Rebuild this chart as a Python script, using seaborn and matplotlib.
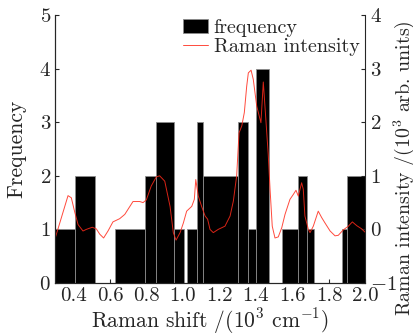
import numpy as np
import pandas as pd
import matplotlib
matplotlib.use("Agg")
import matplotlib.pyplot as plt
import seaborn as sns

# Histogram bins (Raman shift, 10^3 cm^-1) and frequency counts
bin_edges = [0.30, 0.41, 0.52, 0.63, 0.79, 0.85, 0.95, 1.005, 1.02, 1.075, 1.11,
             1.30, 1.355, 1.40, 1.47, 1.54, 1.63, 1.68, 1.72, 1.87, 1.90, 2.00]
frequency = [1, 2, 0, 1, 2, 3, 1, 0, 1, 3, 2, 3, 1, 4, 0, 1, 2, 1, 0, 1, 2]

# Raman spectrum (10^3 cm^-1, 10^3 arb. units)
raman_shift = [0.300, 0.370, 0.388, 0.407, 0.425, 0.452, 0.470, 0.503, 0.525, 0.544,
               0.565, 0.589, 0.616, 0.653, 0.681, 0.726, 0.763, 0.781, 0.799, 0.826,
               0.854, 0.872, 0.900, 0.929, 0.947, 0.962, 0.984, 1.002, 1.020, 1.048,
               1.062, 1.070, 1.084, 1.102, 1.121, 1.135, 1.148, 1.166, 1.193, 1.230,
               1.258, 1.276, 1.294, 1.307, 1.322, 1.336, 1.349, 1.358, 1.373, 1.385,
               1.404, 1.427, 1.440, 1.449, 1.467, 1.477, 1.489, 1.504, 1.522, 1.541,
               1.559, 1.586, 1.604, 1.619, 1.632, 1.650, 1.659, 1.668, 1.687, 1.696,
               1.714, 1.741, 1.760, 1.778, 1.806, 1.833, 1.851, 1.878, 1.906, 1.928,
               1.952, 1.979, 1.997]
raman_intensity = [-0.16, 0.63, 0.59, 0.32, 0.09, -0.03, 0.00, 0.04, 0.01, -0.09,
                   -0.16, -0.03, 0.14, 0.20, 0.28, 0.52, 0.52, 0.50, 0.55, 0.81,
                   0.98, 1.00, 0.90, 0.43, -0.06, -0.20, -0.06, 0.12, 0.34, 0.43,
                   0.56, 0.93, 0.62, 0.43, 0.25, 0.19, 0.00, -0.06, 0.00, 0.06,
                   0.25, 0.53, 1.00, 1.80, 1.93, 2.18, 2.67, 2.92, 2.97, 2.80,
                   2.30, 1.99, 2.75, 2.30, 1.40, 0.75, 0.06, -0.16, -0.14, 0.03,
                   0.28, 0.56, 0.65, 0.73, 0.62, 0.87, 0.75, 0.25, 0.00, -0.06,
                   0.06, 0.34, 0.22, 0.12, -0.03, -0.12, -0.11, -0.01, 0.06, 0.14,
                   0.07, 0.01, -0.05]

x_ticks = [0.4, 0.6, 0.8, 1.0, 1.2, 1.4, 1.6, 1.8, 2.0]

sns.set_style("ticks")
plt.rcParams["font.family"] = ["cmr10", "DejaVu Serif"]
plt.rcParams["mathtext.fontset"] = "cm"
plt.rcParams["axes.formatter.use_mathtext"] = True
plt.rcParams["axes.unicode_minus"] = True

edges = np.array(bin_edges)
centers = (edges[:-1] + edges[1:]) / 2
hist_df = pd.DataFrame({"shift": centers, "count": frequency})
line_df = pd.DataFrame({"shift": raman_shift, "intensity": raman_intensity})

fig = plt.figure(figsize=(4.14, 3.36), dpi=100)
ax = fig.add_axes([55.25 / 414, 1 - 283 / 336, 310.25 / 414, 268 / 336])

sns.histplot(data=hist_df, x="shift", weights="count", bins=bin_edges, ax=ax,
             color="black", alpha=1, edgecolor="0.55", linewidth=0.6,
             label="frequency")
ax.set_xlim(0.3, 2.0)
ax.set_ylim(0, 5)
ax.set_xticks(x_ticks)
ax.set_xticklabels([f"{t:.1f}" for t in x_ticks])
ax.set_yticks(range(0, 6))
ax.set_xlabel(r"Raman shift /(10$^3$ cm$^{-1}$)", fontsize=15.5, labelpad=1)
ax.set_ylabel("Frequency", fontsize=15.5)
ax.yaxis.set_label_coords(-0.094, 0.5)

ax2 = ax.twinx()
sns.lineplot(data=line_df, x="shift", y="intensity", ax=ax2, color="#ff2a1a",
             linewidth=0.7, alpha=0.85, label="Raman intensity", legend=False)
ax2.set_ylim(-1, 4)
ax2.set_yticks(range(-1, 5))
ax2.set_ylabel(r"Raman intensity /(10$^3$ arb. units)", fontsize=14.3)
ax2.yaxis.set_label_coords(1.083, 0.43)
ax2.set_xlim(0.3, 2.0)

for a in (ax, ax2):
    a.tick_params(direction="in", labelsize=15, length=3, width=0.8, pad=3)
    a.spines["top"].set_visible(False)
    for s in a.spines.values():
        s.set_linewidth(0.8)
ax.spines["right"].set_visible(False)

h1, l1 = ax.get_legend_handles_labels()
h2, l2 = ax2.get_legend_handles_labels()
ax2.legend(h1 + h2, l1 + l2, loc="upper right", bbox_to_anchor=(1.02, 1.03),
           frameon=False, fontsize=14.5, handlelength=1.25, handletextpad=0.3,
           borderaxespad=0.2, labelspacing=0.05)

fig.savefig("out.png", dpi=100)
